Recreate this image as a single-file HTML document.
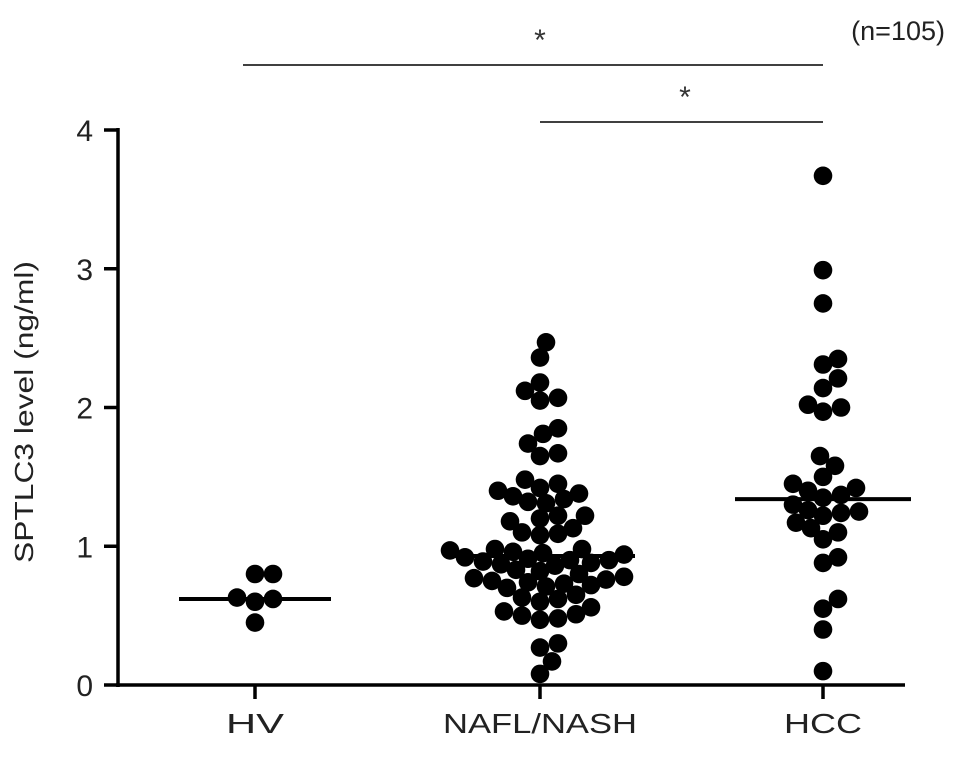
<!DOCTYPE html>
<html><head><meta charset="utf-8"><style>
body{margin:0;background:#fff}
svg{display:block;font-family:"Liberation Sans",Arial,sans-serif}
</style></head><body>
<svg id="chart" width="969" height="757"></svg>
<script>
const categories=["HV","NAFL/NASH","HCC"];
const hvValues=[0.80,0.80,0.63,0.62,0.60,0.45];
const naflValues=[2.47,2.36,2.18,2.12,2.07,2.05,1.85,1.81,1.74,1.67,1.65,1.48,1.45,1.42,1.40,1.38,1.36,1.34,1.32,1.31,1.22,1.22,1.20,1.18,1.13,1.10,1.09,1.08,0.98,0.98,0.97,0.96,0.95,0.94,0.92,0.91,0.90,0.90,0.89,0.88,0.87,0.86,0.83,0.82,0.80,0.78,0.77,0.76,0.75,0.74,0.73,0.72,0.71,0.70,0.65,0.63,0.62,0.60,0.56,0.53,0.51,0.50,0.48,0.47,0.30,0.27,0.17,0.08];
const hccValues=[3.67,2.99,2.75,2.35,2.31,2.21,2.14,2.02,2.00,1.97,1.65,1.58,1.50,1.45,1.42,1.40,1.37,1.35,1.30,1.26,1.25,1.24,1.22,1.17,1.13,1.10,1.05,0.92,0.88,0.62,0.55,0.40,0.10];
const means=[0.62,0.93,1.34];
const yTicks=[0,1,2,3,4];
const NS="http://www.w3.org/2000/svg";
const svg=document.getElementById('chart');
function yS(v){return 685-v*138.75;}
function xS(i){return [255,540,823][i];}
function add(tag,attrs,text){const e=document.createElementNS(NS,tag);for(const k in attrs)e.setAttribute(k,attrs[k]);if(text!==undefined)e.textContent=text;svg.appendChild(e);return e;}
let e;
e=add('line',{x1:118,y1:128,x2:118,y2:687,stroke:'#000','stroke-width':3.5});


e=add('line',{x1:116,y1:685,x2:905,y2:685,stroke:'#000','stroke-width':3.5});


yTicks.forEach(t=>{
 e=add('line',{x1:104,y1:yS(t),x2:118,y2:yS(t),stroke:'#000','stroke-width':3.5});
 
 
 e=add('text',{x:93,y:yS(t)+11,'text-anchor':'end','font-size':30,fill:'#222'},String(t));
 
 
});
const labelW=[58,194,78];
categories.forEach((c,i)=>{
 e=add('line',{x1:xS(i),y1:685,x2:xS(i),y2:699,stroke:'#000','stroke-width':3.5});
 
 
 e=add('text',{x:xS(i)-labelW[i]/2,y:733,'font-size':28,fill:'#222',textLength:labelW[i],lengthAdjust:'spacingAndGlyphs'},c);
 
 
});
e=add('text',{x:0,y:0,transform:'translate(33,412) rotate(-90)','text-anchor':'middle','font-size':26,fill:'#222',textLength:302,lengthAdjust:'spacingAndGlyphs'},'SPTLC3 level (ng/ml)');


const R=9.3;
function swarm(vals,ci){
 const placed=[];
 vals.slice().sort((a,b)=>a-b).forEach(v=>{
  const y=yS(v);let best=0;
  for(let k=0;k<80;k++){
   const off=(k%2?1:-1)*Math.ceil(k/2)*3;
   if(placed.every(p=>Math.hypot(p[0]-off,p[1]-y)>=2*R-3)){best=off;break;}
  }
  placed.push([best,y]);
  e=add('circle',{cx:xS(ci)+best,cy:y,r:R,fill:'#000'});
  
  
 });
}
swarm(hvValues,0);swarm(naflValues,1);swarm(hccValues,2);
const halfW=[76,95,88];
means.forEach((m,i)=>{
 e=add('line',{x1:xS(i)-halfW[i],y1:yS(m),x2:xS(i)+halfW[i],y2:yS(m),stroke:'#000','stroke-width':4});
 
 
});
e=add('line',{x1:243,y1:65,x2:823,y2:65,stroke:'#000','stroke-width':1.5});


e=add('text',{x:540,y:50,'text-anchor':'middle','font-size':30,fill:'#333'},'*');


e=add('line',{x1:540,y1:122,x2:823,y2:122,stroke:'#000','stroke-width':1.5});


e=add('text',{x:685,y:107,'text-anchor':'middle','font-size':30,fill:'#333'},'*');


e=add('text',{x:945,y:40,'font-size':27,fill:'#222','text-anchor':'end'},'(n=105)');


</script>
</body></html>
